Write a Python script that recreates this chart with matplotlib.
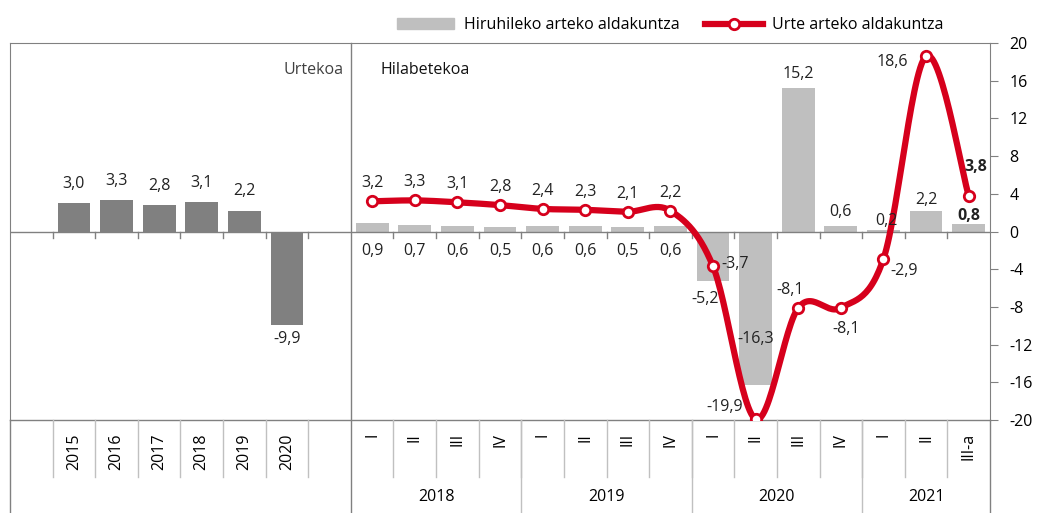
import numpy as np
import matplotlib
matplotlib.use('Agg')
import matplotlib.pyplot as plt
from matplotlib.lines import Line2D
from matplotlib.patches import Patch

plt.rcParams['font.family'] = ['Open Sans', 'DejaVu Sans']
plt.rcParams['font.size'] = 11
plt.rcParams['axes.unicode_minus'] = False

# data
years = ['2015', '2016', '2017', '2018', '2019', '2020']
annual = [3.0, 3.3, 2.8, 3.1, 2.2, -9.9]

quarters = ['I', 'II', 'III', 'IV', 'I', 'II', 'III', 'IV',
            'I', 'II', 'III', 'IV', 'I', 'II', 'III-a']
quarter_years = ['2018', '2019', '2020', '2021']
quarter_counts = [4, 4, 4, 3]
qoq = [0.9, 0.7, 0.6, 0.5, 0.6, 0.6, 0.5, 0.6, -5.2, -16.3, 15.2, 0.6, 0.2, 2.2, 0.8]
yoy = [3.2, 3.3, 3.1, 2.8, 2.4, 2.3, 2.1, 2.2, -3.7, -19.9, -8.1, -8.1, -2.9, 18.6, 3.8]

# label offsets in points (dx, dy, ha)
yoy_off = [(0, 13, 'center')] * 8 + [(6, 2, 'left'), (-9, 9, 'right'), (-6, 13, 'center'),
                                     (4, -15, 'center'), (15, -9, 'center'), (-13, -4, 'right'),
                                     (5, 21, 'center')]
qoq_off = [(0, -14)] * 8 + [(-6, -13), (0, 33), (0, 10), (0, 10), (2, 6), (0, 8), (0, 6)]

RED = '#D6001C'
GRID = '#808080'
LIGHT = '#C0C0C0'


def fmt(v):
    return ('%.1f' % v).replace('.', ',')


def smooth(x, y, n=30):
    # excel-like smoothed line (catmull-rom bezier)
    P = np.column_stack([x, y])
    P = np.vstack([P[0], P, P[-1]])
    out = []
    t = np.linspace(0, 1, n)[:, None]
    for i in range(1, len(P) - 2):
        b0 = P[i]
        b1 = P[i] + (P[i + 1] - P[i - 1]) / 6
        b2 = P[i + 1] - (P[i + 2] - P[i]) / 6
        b3 = P[i + 1]
        seg = (1 - t) ** 3 * b0 + 3 * (1 - t) ** 2 * t * b1 + 3 * (1 - t) * t ** 2 * b2 + t ** 3 * b3
        out.append(seg)
    out = np.vstack(out)
    return out[:, 0], out[:, 1]


fig = plt.figure(figsize=(10.39, 5.13), dpi=100)
ax = fig.add_axes([10 / 1039, 1 - 420 / 513, 980 / 1039, 377 / 513])

n_left = len(years) + 2
n_total = n_left + len(quarters)
xa = np.arange(len(years)) + 1.5
xq = np.arange(len(quarters)) + n_left + 0.5

ax.bar(xa, annual, width=0.77, color='#808080', zorder=2)
ax.bar(xq, qoq, width=0.77, color='#BFBFBF', zorder=2)

sx, sy = smooth(xq, yoy)
ax.plot(sx, sy, color=RED, lw=4.5, zorder=4, solid_capstyle='round')
ax.plot(xq, yoy, 'o', ms=7.5, mfc='white', mec=RED, mew=2, zorder=5)

ax.set_xlim(0, n_total)
ax.set_ylim(-20, 20)
ax.yaxis.tick_right()
ax.set_yticks(np.arange(-20, 21, 4))
ax.tick_params(axis='y', direction='out', length=6, color=GRID, pad=8, labelsize=11.5)
ax.set_xticks([])
for s in ['top', 'left', 'right']:
    ax.spines[s].set_color(GRID)
ax.spines['bottom'].set_visible(False)

# zero line and ticks
ax.axhline(0, color=GRID, lw=1, zorder=3)
tr = ax.get_xaxis_transform()
ax.plot([0, n_total], [0, 0], transform=tr, color=GRID, lw=1, clip_on=False)
for b in list(range(1, n_left)) + list(range(n_left + 1, n_total)):
    ax.plot([b, b], [0, -0.65], color=GRID, lw=1, zorder=3)

# label table below
row1 = -57 / 377
bottom = -93 / 377
for b in list(range(1, n_left)) + list(range(n_left + 1, n_total)):
    ax.plot([b, b], [0, row1], transform=tr, color=LIGHT, lw=1, clip_on=False)
ax.plot([n_left, n_left], [1, bottom], transform=tr, color=GRID, lw=1, clip_on=False)
ax.plot([0, 0], [0, bottom], transform=tr, color=GRID, lw=1, clip_on=False)
ax.plot([n_total, n_total], [0, bottom], transform=tr, color=GRID, lw=1, clip_on=False)
pos = n_left
for yr, cnt in zip(quarter_years, quarter_counts):
    if pos > n_left:
        ax.plot([pos, pos], [0, bottom], transform=tr, color=LIGHT, lw=1, clip_on=False)
    ax.text(pos + cnt / 2, -77 / 377, yr, transform=tr, ha='center', va='center', fontsize=11.5)
    pos += cnt

for x, lab in zip(xa, years):
    ax.text(x, -13 / 377, lab, transform=tr, rotation=90, ha='center', va='top', fontsize=11.5)
for x, lab in zip(xq, quarters):
    ax.text(x, -13 / 377, lab, transform=tr, rotation=90, ha='center', va='top', fontsize=11.5)

# data labels
for x, v in zip(xa, annual):
    dy = 14 if v >= 0 else -10
    ax.annotate(fmt(v), (x, v), xytext=(0, dy), textcoords='offset points',
                ha='center', va='center', fontsize=11.5, color='#222222')
for i, (x, v) in enumerate(zip(xq, qoq)):
    dx, dy = qoq_off[i]
    base = 0 if (i < 8) else v
    ax.annotate(fmt(v), (x, base), xytext=(dx, dy), textcoords='offset points',
                ha='center', va='center', fontsize=11.5, color='#222222',
                fontweight='bold' if i == len(qoq) - 1 else 'normal', zorder=6)
for i, (x, v) in enumerate(zip(xq, yoy)):
    dx, dy, ha = yoy_off[i]
    ax.annotate(fmt(v), (x, v), xytext=(dx, dy), textcoords='offset points',
                ha=ha, va='center', fontsize=11.5, color='#222222',
                fontweight='bold' if i == len(yoy) - 1 else 'normal', zorder=6)

ax.text(n_left - 0.18, 0.928, 'Urtekoa', transform=tr, ha='right', va='center',
        fontsize=11.5, color='#404040')
ax.text(n_left + 0.69, 0.928, 'Hilabetekoa', transform=tr, ha='left', va='center',
        fontsize=11.5, color='#111111')

handles = [Patch(color='#BFBFBF'),
           Line2D([], [], color=RED, lw=4.5, marker='o', ms=7.5, mfc='white', mec=RED, mew=2)]
fig.legend(handles, ['Hiruhileko arteko aldakuntza', 'Urte arteko aldakuntza'],
           loc='center', bbox_to_anchor=(0.645, 0.951), ncol=2, frameon=False,
           handlelength=3.6, columnspacing=1.6, handletextpad=0.6, fontsize=11.5)

fig.savefig('out.png', dpi=100)
